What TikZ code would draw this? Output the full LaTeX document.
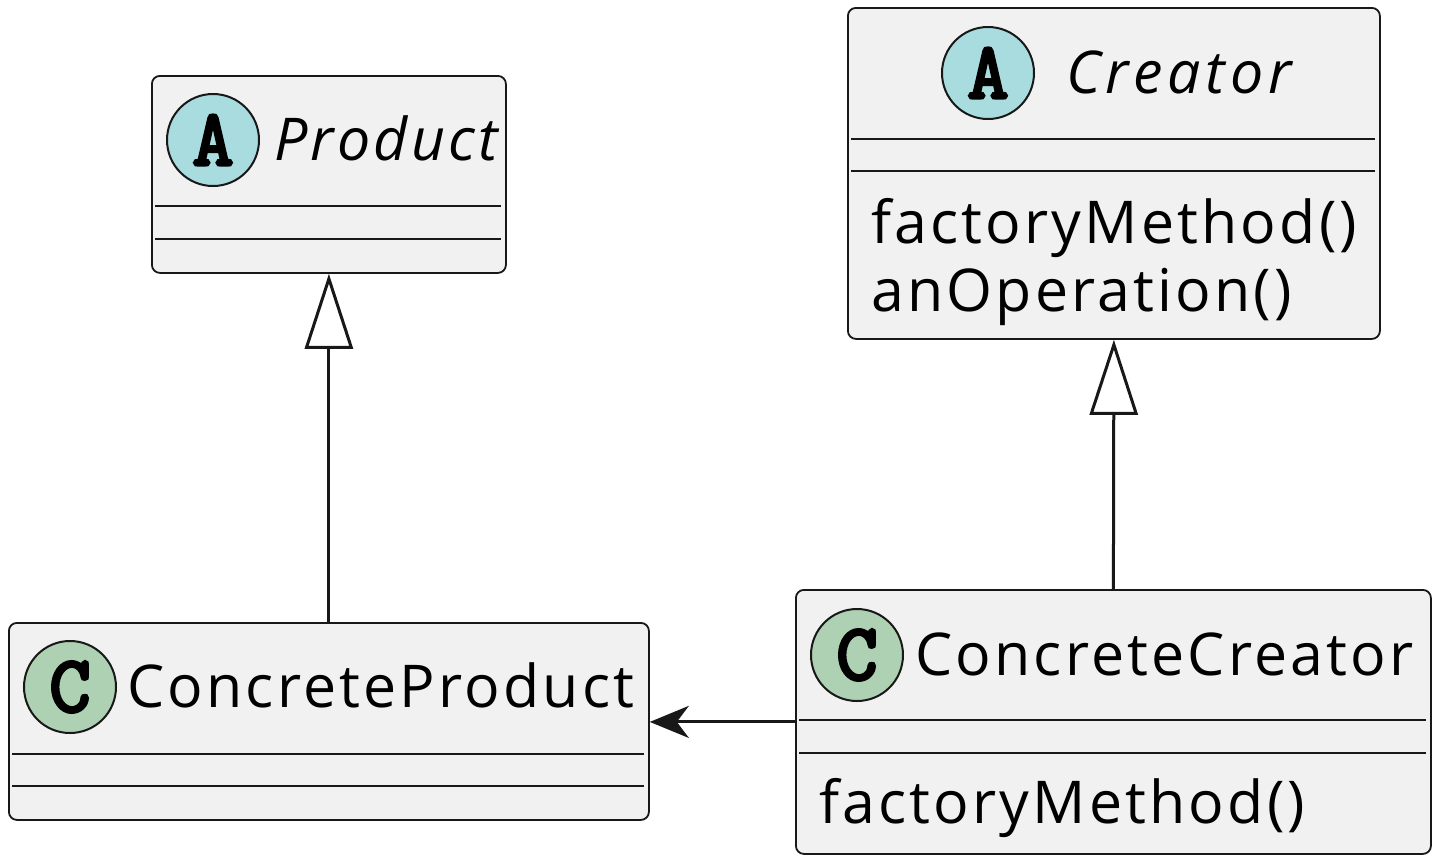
\documentclass[tikz,border=0pt]{standalone}
\usepackage{fontspec}
\setmainfont{Open Sans}[LetterSpace=5.4]
\newfontfamily\wideitalic{Open Sans}[LetterSpace=8]
\newfontfamily\spotfont{Latin Modern Mono}[FakeBold=4]
\usetikzlibrary{arrows.meta}

\definecolor{boxfill}{HTML}{F1F1F1}
\definecolor{boxline}{HTML}{181818}
\definecolor{absfill}{HTML}{A9DCDF}
\definecolor{clsfill}{HTML}{ADD1B2}

\tikzset{
  classbox/.style={draw=boxline,fill=boxfill,rounded corners=4pt,line width=0.9pt,
    anchor=north west,inner sep=0pt},
  sepline/.style={draw=boxline,line width=0.75pt},
  spot/.style={circle,draw=boxline,line width=1pt,minimum size=46pt,inner sep=0pt,
    font=\spotfont\fontsize{40}{40}\selectfont},
  label/.style={anchor=base west,inner sep=0pt,font=\fontsize{29.5}{29.5}\selectfont},
  inherit/.style={draw=boxline,line width=1.5pt,
    -{Triangle[fill=white,length=37.5pt,width=24pt,line join=miter]}},
  assoc/.style={draw=boxline,line width=1.5pt,
    -{Stealth[length=19.5pt,width=16pt,inset=6pt]}}
}

\begin{document}
\begin{tikzpicture}[x=0.5pt,y=-0.5pt]
  \useasboundingbox (0,0) rectangle (1436,864);

  % abstract Product
  \node[classbox,minimum width=177pt,minimum height=98.5pt] (product) at (151,75) {};
  \draw[sepline] (155,206) -- (501,206);
  \draw[sepline] (155,239) -- (501,239);
  \node[spot,fill=absfill] (productA) at (213,140) {A};
  \node[label] (productname) at (274,160) {\itshape Product};

  % abstract Creator
  \node[classbox,minimum width=266pt,minimum height=165.5pt] (creator) at (847,7) {};
  \draw[sepline] (851,139) -- (1375,139);
  \draw[sepline] (851,171) -- (1375,171);
  \node[spot,fill=absfill] (creatorA) at (988,73) {A};
  \node[label] (creatorname) at (1066,93) {\wideitalic\itshape Creator};
  \node[label] (creatorm1) at (871,243) {factoryMethod()};
  \node[label] (creatorm2) at (871,311) {anOperation()};

  % ConcreteProduct
  \node[classbox,minimum width=320pt,minimum height=98.5pt] (cproduct) at (8,622) {};
  \draw[sepline] (12,754) -- (644,754);
  \draw[sepline] (12,786) -- (644,786);
  \node[spot,fill=clsfill] (cproductC) at (70,687) {C};
  \node[label] (cproductname) at (127,707) {ConcreteProduct};

  % ConcreteCreator
  \node[classbox,minimum width=317.5pt,minimum height=132pt] (ccreator) at (795,589) {};
  \draw[sepline] (799,720) -- (1426,720);
  \draw[sepline] (799,753) -- (1426,753);
  \node[spot,fill=clsfill] (ccreatorC) at (857,655) {C};
  \node[label] (ccreatorname) at (915,675) {ConcreteCreator};
  \node[label] (ccreatorm1) at (819,823) {factoryMethod()};

  % relations
  \draw[inherit] (cproduct.north) -- (product.south);
  \draw[inherit] (ccreator.north) -- (creator.south);
  \draw[assoc] (ccreator.west) -- (ccreator.west -| cproduct.east);
\end{tikzpicture}
\end{document}
